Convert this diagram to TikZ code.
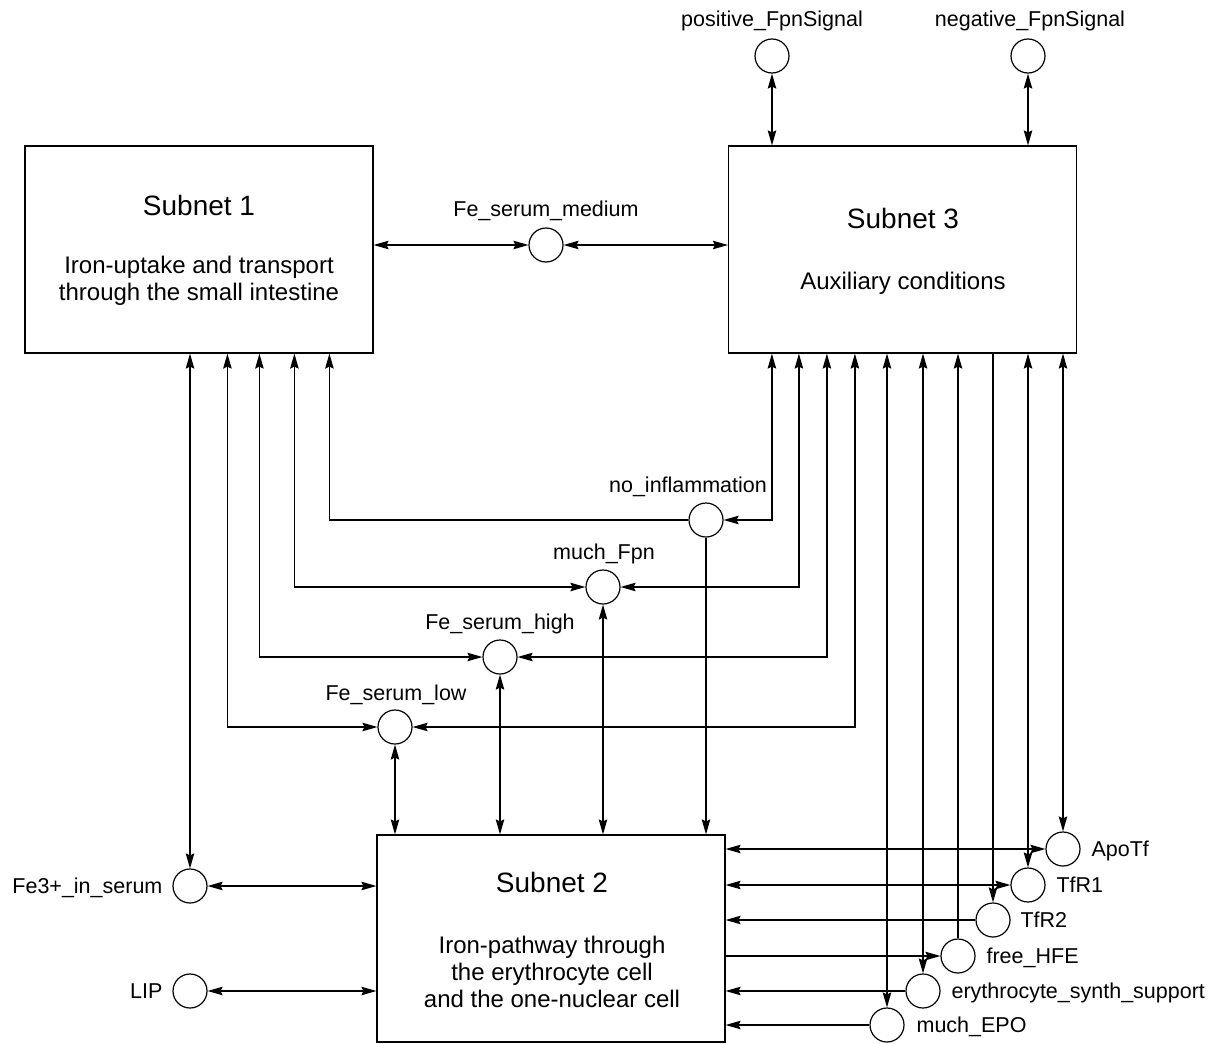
\documentclass[tikz,border=0pt]{standalone}
\usepackage{fontspec}
\setmainfont{Liberation Sans}
\usetikzlibrary{arrows.meta,calc}
\begin{document}
\begin{tikzpicture}[x=1pt,y=-1pt,
  line width=1.2pt,
  >={Stealth[length=15pt,width=8.5pt,inset=2pt]},
  pl/.style={circle,draw,minimum size=34pt,inner sep=0pt},
  sbox/.style={draw,inner sep=0pt,minimum width=348pt,minimum height=207pt},
  lbl/.style={inner sep=0pt,font=\fontsize{21.5}{25}\selectfont},
  ttl/.style={inner sep=0pt,font=\fontsize{28}{32}\selectfont,anchor=base},
  body/.style={inner sep=0pt,font=\fontsize{24}{27}\selectfont,anchor=base},
]
\useasboundingbox (0,0) rectangle (1219,1044);

% boxes
\node[sbox] (s1) at (199,249.5) {};
\node[sbox] (s3) at (902.5,249.5) {};
\node[sbox] (s2) at (551,938.5) {};

\node[ttl] (s1t) at (199,215) {Subnet 1};
\node[body] (s1a) at (199,273) {Iron-uptake and transport};
\node[body] (s1b) at (199,300) {through the small intestine};

\node[ttl] (s3t) at (903,228) {Subnet 3};
\node[body] (s3a) at (903,289) {Auxiliary conditions};

\node[ttl] (s2t) at (552,892) {Subnet 2};
\node[body] (s2a) at (552,953) {Iron-pathway through};
\node[body] (s2b) at (552,980) {the erythrocyte cell};
\node[body] (s2c) at (552,1007) {and the one-nuclear cell};

% places
\node[pl] (psig) at (772,56) {};
\node[pl] (nsig) at (1028,56) {};
\node[pl] (fem) at (546,245) {};
\node[pl] (ni) at (706,520) {};
\node[pl] (mf) at (603,587) {};
\node[pl] (fsh) at (500,657) {};
\node[pl] (fsl) at (395,727) {};
\node[pl] (fe3) at (190,886) {};
\node[pl] (lip) at (190,991) {};
\node[pl] (apo) at (1063,849) {};
\node[pl] (tfr1) at (1028,885) {};
\node[pl] (tfr2) at (993,920) {};
\node[pl] (hfe) at (958,956) {};
\node[pl] (ess) at (923,991) {};
\node[pl] (epo) at (887,1025) {};

% labels
\node[lbl,anchor=base] (psigl) at (772,26) {positive\_FpnSignal};
\node[lbl,anchor=base] (nsigl) at (1030,26) {negative\_FpnSignal};
\node[lbl,anchor=base] (feml) at (546,216) {Fe\_serum\_medium};
\node[lbl,anchor=base] (nil) at (688,492) {no\_inflammation};
\node[lbl,anchor=base] (mfl) at (604,559) {much\_Fpn};
\node[lbl,anchor=base] (fshl) at (500,629) {Fe\_serum\_high};
\node[lbl,anchor=base] (fsll) at (396,700) {Fe\_serum\_low};
\node[lbl,anchor=base east] (fe3l) at (163,893) {Fe3+\_in\_serum};
\node[lbl,anchor=base east] (lipl) at (163,998) {LIP};
\node[lbl,anchor=base west] (apol) at (1091,856) {ApoTf};
\node[lbl,anchor=base west] (tfr1l) at (1056,892) {TfR1};
\node[lbl,anchor=base west] (tfr2l) at (1020,927) {TfR2};
\node[lbl,anchor=base west] (hfel) at (986,963) {free\_HFE};
\node[lbl,anchor=base west] (essl) at (951,998) {erythrocyte\_synth\_support};
\node[lbl,anchor=base west] (epol) at (916,1032) {much\_EPO};

% top signals
\draw[<->] (psig.south) -- (psig |- s3.north);
\draw[<->] (nsig.south) -- (nsig |- s3.north);
% medium
\draw[<->] (fem.west) -- (fem -| s1.east);
\draw[<->] (fem.east) -- (fem -| s3.west);
% subnet 1 bottom
\draw[->] (ni.west) -| ([xshift=305pt]s1.south west);
\draw[<->] ([xshift=270pt]s1.south west) |- (mf.west);
\draw[<->] ([xshift=235pt]s1.south west) |- (fsh.west);
\draw[<->] ([xshift=203pt]s1.south west) |- (fsl.west);
\draw[<->] (fe3 |- s1.south) -- (fe3.north);
% subnet 3 bottom-left
\draw[<->] ([xshift=44pt]s3.south west) |- (ni.east);
\draw[<->] ([xshift=71pt]s3.south west) |- (mf.east);
\draw[<->] ([xshift=99pt]s3.south west) |- (fsh.east);
\draw[<->] ([xshift=127pt]s3.south west) |- (fsl.east);
% to subnet 2 top
\draw[->] (ni.south) -- (ni |- s2.north);
\draw[<->] (mf.south) -- (mf |- s2.north);
\draw[<->] (fsh.south) -- (fsh |- s2.north);
\draw[<->] (fsl.south) -- (fsl |- s2.north);
% left of subnet 2
\draw[<->] (fe3.east) -- (fe3 -| s2.west);
\draw[<->] (lip.east) -- (lip -| s2.west);
% right: from subnet 3
\draw[<->] (apo |- s3.south) -- (apo.north);
\draw[<->] (tfr1 |- s3.south) -- (tfr1.north);
\draw[->] (tfr2 |- s3.south) -- (tfr2.north);
\draw[->] (hfe.north) -- (hfe |- s3.south);
\draw[<->] (ess |- s3.south) -- (ess.north);
\draw[<->] (epo |- s3.south) -- (epo.north);
% right: to subnet 2
\draw[<->] (apo.west) -- (apo -| s2.east);
\draw[<->] (tfr1.west) -- (tfr1 -| s2.east);
\draw[->] (tfr2.west) -- (tfr2 -| s2.east);
\draw[->] (hfe -| s2.east) -- (hfe.west);
\draw[->] (ess.west) -- (ess -| s2.east);
\draw[->] (epo.west) -- (epo -| s2.east);
\end{tikzpicture}
\end{document}
